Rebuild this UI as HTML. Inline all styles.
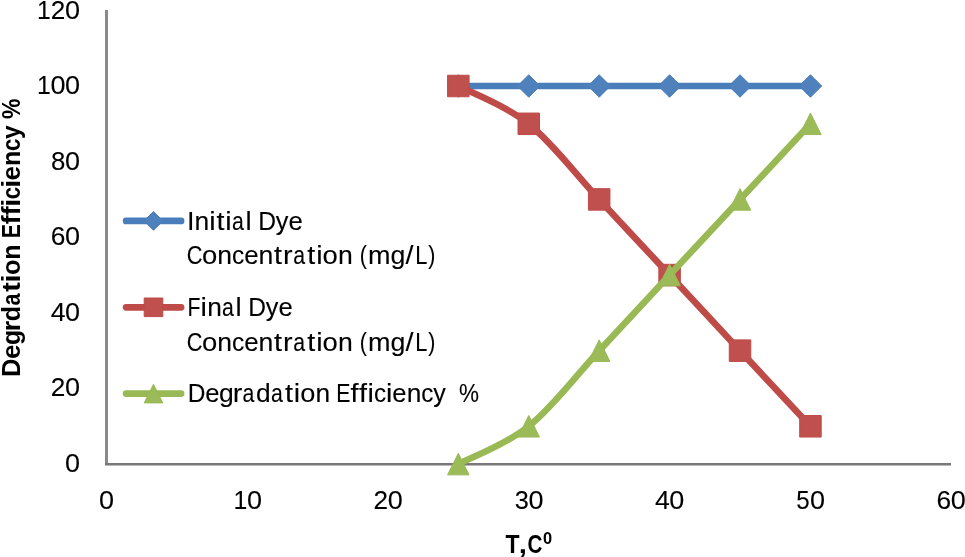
<!DOCTYPE html>
<html><head><meta charset="utf-8"><style>
html,body{margin:0;padding:0;background:#fff;overflow:hidden;}
svg{display:block;will-change:transform;}
text{font-variant-ligatures:none;font-kerning:none;white-space:pre;}
.t{font-family:"Liberation Sans",sans-serif;font-size:25px;fill:#000;stroke:#000;stroke-width:0.1px;}
.b{font-family:"Liberation Sans",sans-serif;font-size:25px;font-weight:bold;fill:#000;}
</style></head><body>
<svg width="965" height="557" viewBox="0 0 965 557">
<rect width="965" height="557" fill="#fff"/>
<line x1="106.5" y1="10" x2="106.5" y2="465" stroke="#8a8a8a" stroke-width="3"/>
<line x1="105" y1="464.25" x2="951" y2="464.25" stroke="#787878" stroke-width="2.5"/>
<text transform="translate(505.60,552.90) scale(0.9200,1)" class="b">T</text>
<text transform="translate(518.72,552.90) scale(1.1800,1)" class="b">,</text>
<text transform="translate(527.48,552.90) scale(0.8235,1)" class="b">C</text>
<text transform="translate(542.90,544.00) scale(0.9667,1)" class="b" style="font-size:17px">0</text>
<text y="229.8" class="t"><tspan x="187.02" textLength="7.51" lengthAdjust="spacingAndGlyphs">I</tspan><tspan x="194.53" textLength="14.71" lengthAdjust="spacingAndGlyphs">n</tspan><tspan x="209.31" textLength="6.39" lengthAdjust="spacingAndGlyphs">i</tspan><tspan x="216.40" textLength="7.99" lengthAdjust="spacingAndGlyphs">t</tspan><tspan x="225.32" textLength="6.39" lengthAdjust="spacingAndGlyphs">i</tspan><tspan x="231.93" textLength="11.82" lengthAdjust="spacingAndGlyphs">a</tspan><tspan x="245.55" textLength="6.16" lengthAdjust="spacingAndGlyphs">l</tspan> <tspan x="258.21" textLength="17.79" lengthAdjust="spacingAndGlyphs">D</tspan><tspan x="275.85" textLength="12.61" lengthAdjust="spacingAndGlyphs">y</tspan><tspan x="288.56" textLength="14.29" lengthAdjust="spacingAndGlyphs">e</tspan></text>
<text y="263.9" class="t"><tspan x="186.77" textLength="15.65" lengthAdjust="spacingAndGlyphs">C</tspan><tspan x="202.04" textLength="15.26" lengthAdjust="spacingAndGlyphs">o</tspan><tspan x="217.38" textLength="14.79" lengthAdjust="spacingAndGlyphs">n</tspan><tspan x="232.11" textLength="12.23" lengthAdjust="spacingAndGlyphs">c</tspan><tspan x="244.21" textLength="14.37" lengthAdjust="spacingAndGlyphs">e</tspan><tspan x="258.64" textLength="14.79" lengthAdjust="spacingAndGlyphs">n</tspan><tspan x="274.11" textLength="7.99" lengthAdjust="spacingAndGlyphs">t</tspan><tspan x="283.11" textLength="9.57" lengthAdjust="spacingAndGlyphs">r</tspan><tspan x="293.14" textLength="11.82" lengthAdjust="spacingAndGlyphs">a</tspan><tspan x="307.28" textLength="7.99" lengthAdjust="spacingAndGlyphs">t</tspan><tspan x="316.25" textLength="6.39" lengthAdjust="spacingAndGlyphs">i</tspan><tspan x="322.62" textLength="15.26" lengthAdjust="spacingAndGlyphs">o</tspan><tspan x="337.96" textLength="14.79" lengthAdjust="spacingAndGlyphs">n</tspan> <tspan x="359.79" textLength="7.08" lengthAdjust="spacingAndGlyphs">(</tspan><tspan x="368.13" textLength="22.50" lengthAdjust="spacingAndGlyphs">m</tspan><tspan x="390.44" textLength="14.89" lengthAdjust="spacingAndGlyphs">g</tspan><tspan x="405.60" textLength="7.99" lengthAdjust="spacingAndGlyphs">/</tspan><tspan x="415.26" textLength="12.11" lengthAdjust="spacingAndGlyphs">L</tspan><tspan x="428.17" textLength="7.08" lengthAdjust="spacingAndGlyphs">)</tspan></text>
<text y="315.75" class="t"><tspan x="187.62" textLength="12.98" lengthAdjust="spacingAndGlyphs">F</tspan><tspan x="200.55" textLength="6.39" lengthAdjust="spacingAndGlyphs">i</tspan><tspan x="207.18" textLength="14.67" lengthAdjust="spacingAndGlyphs">n</tspan><tspan x="221.99" textLength="11.82" lengthAdjust="spacingAndGlyphs">a</tspan><tspan x="235.59" textLength="6.15" lengthAdjust="spacingAndGlyphs">l</tspan> <tspan x="248.21" textLength="17.74" lengthAdjust="spacingAndGlyphs">D</tspan><tspan x="265.81" textLength="12.57" lengthAdjust="spacingAndGlyphs">y</tspan><tspan x="278.47" textLength="14.25" lengthAdjust="spacingAndGlyphs">e</tspan></text>
<text y="350.7" class="t"><tspan x="186.77" textLength="15.65" lengthAdjust="spacingAndGlyphs">C</tspan><tspan x="202.04" textLength="15.26" lengthAdjust="spacingAndGlyphs">o</tspan><tspan x="217.38" textLength="14.79" lengthAdjust="spacingAndGlyphs">n</tspan><tspan x="232.11" textLength="12.23" lengthAdjust="spacingAndGlyphs">c</tspan><tspan x="244.21" textLength="14.37" lengthAdjust="spacingAndGlyphs">e</tspan><tspan x="258.64" textLength="14.79" lengthAdjust="spacingAndGlyphs">n</tspan><tspan x="274.11" textLength="7.99" lengthAdjust="spacingAndGlyphs">t</tspan><tspan x="283.11" textLength="9.57" lengthAdjust="spacingAndGlyphs">r</tspan><tspan x="293.14" textLength="11.82" lengthAdjust="spacingAndGlyphs">a</tspan><tspan x="307.28" textLength="7.99" lengthAdjust="spacingAndGlyphs">t</tspan><tspan x="316.25" textLength="6.39" lengthAdjust="spacingAndGlyphs">i</tspan><tspan x="322.62" textLength="15.26" lengthAdjust="spacingAndGlyphs">o</tspan><tspan x="337.96" textLength="14.79" lengthAdjust="spacingAndGlyphs">n</tspan> <tspan x="359.79" textLength="7.08" lengthAdjust="spacingAndGlyphs">(</tspan><tspan x="368.13" textLength="22.50" lengthAdjust="spacingAndGlyphs">m</tspan><tspan x="390.44" textLength="14.89" lengthAdjust="spacingAndGlyphs">g</tspan><tspan x="405.60" textLength="7.99" lengthAdjust="spacingAndGlyphs">/</tspan><tspan x="415.26" textLength="12.11" lengthAdjust="spacingAndGlyphs">L</tspan><tspan x="428.17" textLength="7.08" lengthAdjust="spacingAndGlyphs">)</tspan></text>
<text y="401.9" class="t"><tspan x="187.81" textLength="17.71" lengthAdjust="spacingAndGlyphs">D</tspan><tspan x="205.24" textLength="14.22" lengthAdjust="spacingAndGlyphs">e</tspan><tspan x="219.11" textLength="14.74" lengthAdjust="spacingAndGlyphs">g</tspan><tspan x="232.69" textLength="9.57" lengthAdjust="spacingAndGlyphs">r</tspan><tspan x="242.60" textLength="11.82" lengthAdjust="spacingAndGlyphs">a</tspan><tspan x="255.93" textLength="14.64" lengthAdjust="spacingAndGlyphs">d</tspan><tspan x="270.98" textLength="11.82" lengthAdjust="spacingAndGlyphs">a</tspan><tspan x="285.00" textLength="7.99" lengthAdjust="spacingAndGlyphs">t</tspan><tspan x="293.89" textLength="6.39" lengthAdjust="spacingAndGlyphs">i</tspan><tspan x="300.23" textLength="15.11" lengthAdjust="spacingAndGlyphs">o</tspan><tspan x="315.42" textLength="14.65" lengthAdjust="spacingAndGlyphs">n</tspan> <tspan x="336.26" textLength="14.17" lengthAdjust="spacingAndGlyphs">E</tspan><tspan x="350.42" textLength="7.99" lengthAdjust="spacingAndGlyphs">f</tspan><tspan x="359.04" textLength="7.99" lengthAdjust="spacingAndGlyphs">f</tspan><tspan x="367.53" textLength="6.39" lengthAdjust="spacingAndGlyphs">i</tspan><tspan x="373.90" textLength="12.11" lengthAdjust="spacingAndGlyphs">c</tspan><tspan x="385.96" textLength="6.39" lengthAdjust="spacingAndGlyphs">i</tspan><tspan x="392.36" textLength="14.22" lengthAdjust="spacingAndGlyphs">e</tspan><tspan x="406.65" textLength="14.65" lengthAdjust="spacingAndGlyphs">n</tspan><tspan x="421.23" textLength="12.11" lengthAdjust="spacingAndGlyphs">c</tspan><tspan x="433.34" textLength="12.55" lengthAdjust="spacingAndGlyphs">y</tspan>  <tspan x="458.92" textLength="19.97" lengthAdjust="spacingAndGlyphs">%</tspan></text>
<text y="471.60" class="t"><tspan x="64.98" textLength="15.04" lengthAdjust="spacingAndGlyphs">0</tspan></text>
<text y="396.12" class="t"><tspan x="50.87" textLength="14.54" lengthAdjust="spacingAndGlyphs">2</tspan><tspan x="64.98" textLength="15.04" lengthAdjust="spacingAndGlyphs">0</tspan></text>
<text y="320.63" class="t"><tspan x="50.79" textLength="14.83" lengthAdjust="spacingAndGlyphs">4</tspan><tspan x="64.98" textLength="15.04" lengthAdjust="spacingAndGlyphs">0</tspan></text>
<text y="245.15" class="t"><tspan x="50.85" textLength="14.62" lengthAdjust="spacingAndGlyphs">6</tspan><tspan x="64.98" textLength="15.04" lengthAdjust="spacingAndGlyphs">0</tspan></text>
<text y="169.67" class="t"><tspan x="50.93" textLength="14.36" lengthAdjust="spacingAndGlyphs">8</tspan><tspan x="64.98" textLength="15.04" lengthAdjust="spacingAndGlyphs">0</tspan></text>
<text y="94.18" class="t"><tspan x="37.09" textLength="13.76" lengthAdjust="spacingAndGlyphs">1</tspan><tspan x="50.59" textLength="15.04" lengthAdjust="spacingAndGlyphs">0</tspan><tspan x="64.98" textLength="15.04" lengthAdjust="spacingAndGlyphs">0</tspan></text>
<text y="18.70" class="t"><tspan x="37.09" textLength="13.76" lengthAdjust="spacingAndGlyphs">1</tspan><tspan x="50.87" textLength="14.54" lengthAdjust="spacingAndGlyphs">2</tspan><tspan x="64.98" textLength="15.04" lengthAdjust="spacingAndGlyphs">0</tspan></text>
<text y="508.6" class="t"><tspan x="98.98" textLength="15.04" lengthAdjust="spacingAndGlyphs">0</tspan></text>
<text y="508.6" class="t"><tspan x="233.43" textLength="13.76" lengthAdjust="spacingAndGlyphs">1</tspan><tspan x="246.93" textLength="15.04" lengthAdjust="spacingAndGlyphs">0</tspan></text>
<text y="508.6" class="t"><tspan x="373.57" textLength="14.54" lengthAdjust="spacingAndGlyphs">2</tspan><tspan x="387.68" textLength="15.04" lengthAdjust="spacingAndGlyphs">0</tspan></text>
<text y="508.6" class="t"><tspan x="514.71" textLength="14.07" lengthAdjust="spacingAndGlyphs">3</tspan><tspan x="528.43" textLength="15.04" lengthAdjust="spacingAndGlyphs">0</tspan></text>
<text y="508.6" class="t"><tspan x="654.98" textLength="14.83" lengthAdjust="spacingAndGlyphs">4</tspan><tspan x="669.18" textLength="15.04" lengthAdjust="spacingAndGlyphs">0</tspan></text>
<text y="508.6" class="t"><tspan x="796.18" textLength="13.40" lengthAdjust="spacingAndGlyphs">5</tspan><tspan x="809.93" textLength="15.04" lengthAdjust="spacingAndGlyphs">0</tspan></text>
<text y="508.6" class="t"><tspan x="936.55" textLength="14.62" lengthAdjust="spacingAndGlyphs">6</tspan><tspan x="950.68" textLength="15.04" lengthAdjust="spacingAndGlyphs">0</tspan></text>
<text transform="translate(20.1,0) rotate(-90)" class="b"><tspan x="-376.92" textLength="18.42" lengthAdjust="spacingAndGlyphs">D</tspan><tspan x="-359.06" textLength="14.47" lengthAdjust="spacingAndGlyphs">e</tspan><tspan x="-344.99" textLength="15.19" lengthAdjust="spacingAndGlyphs">g</tspan><tspan x="-331.37" textLength="10.30" lengthAdjust="spacingAndGlyphs">r</tspan><tspan x="-321.21" textLength="15.33" lengthAdjust="spacingAndGlyphs">d</tspan><tspan x="-305.44" textLength="12.03" lengthAdjust="spacingAndGlyphs">a</tspan><tspan x="-291.74" textLength="9.57" lengthAdjust="spacingAndGlyphs">t</tspan><tspan x="-282.46" textLength="7.99" lengthAdjust="spacingAndGlyphs">i</tspan><tspan x="-275.11" textLength="15.54" lengthAdjust="spacingAndGlyphs">o</tspan><tspan x="-259.63" textLength="15.23" lengthAdjust="spacingAndGlyphs">n</tspan> <tspan x="-238.17" textLength="14.17" lengthAdjust="spacingAndGlyphs">E</tspan><tspan x="-224.38" textLength="9.02" lengthAdjust="spacingAndGlyphs">f</tspan><tspan x="-215.39" textLength="9.02" lengthAdjust="spacingAndGlyphs">f</tspan><tspan x="-206.73" textLength="7.99" lengthAdjust="spacingAndGlyphs">i</tspan><tspan x="-199.35" textLength="12.35" lengthAdjust="spacingAndGlyphs">c</tspan><tspan x="-187.87" textLength="7.99" lengthAdjust="spacingAndGlyphs">i</tspan><tspan x="-180.53" textLength="14.47" lengthAdjust="spacingAndGlyphs">e</tspan><tspan x="-166.01" textLength="15.23" lengthAdjust="spacingAndGlyphs">n</tspan><tspan x="-150.95" textLength="12.35" lengthAdjust="spacingAndGlyphs">c</tspan><tspan x="-139.11" textLength="13.59" lengthAdjust="spacingAndGlyphs">y</tspan> <tspan x="-118.96" textLength="20.47" lengthAdjust="spacingAndGlyphs">%</tspan></text>
<path d="M458.32,86.00 C470.06,86.00 505.27,86.00 528.75,86.00 C552.23,86.00 575.70,86.00 599.18,86.00 C622.65,86.00 646.13,86.00 669.60,86.00 C693.08,86.00 716.55,86.00 740.03,86.00 C763.50,86.00 798.71,86.00 810.45,86.00" fill="none" stroke="#4a7ebb" stroke-width="6.6" stroke-linejoin="round" stroke-linecap="round"/>
<path d="M458.32,74.75 L469.57,86.00 L458.32,97.25 L447.07,86.00Z" fill="#4f81bd" stroke="#4a7ebb" stroke-width="1" stroke-linejoin="round"/>
<path d="M528.75,74.75 L540.00,86.00 L528.75,97.25 L517.50,86.00Z" fill="#4f81bd" stroke="#4a7ebb" stroke-width="1" stroke-linejoin="round"/>
<path d="M599.18,74.75 L610.43,86.00 L599.18,97.25 L587.93,86.00Z" fill="#4f81bd" stroke="#4a7ebb" stroke-width="1" stroke-linejoin="round"/>
<path d="M669.60,74.75 L680.85,86.00 L669.60,97.25 L658.35,86.00Z" fill="#4f81bd" stroke="#4a7ebb" stroke-width="1" stroke-linejoin="round"/>
<path d="M740.03,74.75 L751.28,86.00 L740.03,97.25 L728.78,86.00Z" fill="#4f81bd" stroke="#4a7ebb" stroke-width="1" stroke-linejoin="round"/>
<path d="M810.45,74.75 L821.70,86.00 L810.45,97.25 L799.20,86.00Z" fill="#4f81bd" stroke="#4a7ebb" stroke-width="1" stroke-linejoin="round"/>
<path d="M458.32,86.00 C470.06,92.30 505.27,104.91 528.75,123.81 C552.23,142.72 575.70,174.22 599.18,199.43 C622.65,224.64 646.13,249.84 669.60,275.05 C693.08,300.26 716.55,325.46 740.03,350.67 C763.50,375.88 798.71,413.69 810.45,426.29" fill="none" stroke="#be4b48" stroke-width="6.6" stroke-linejoin="round" stroke-linecap="round"/>
<rect x="447.57" y="75.25" width="21.50" height="21.50" fill="#c0504d" stroke="#be4b48" stroke-width="1" stroke-linejoin="round"/>
<rect x="518.00" y="113.06" width="21.50" height="21.50" fill="#c0504d" stroke="#be4b48" stroke-width="1" stroke-linejoin="round"/>
<rect x="588.43" y="188.68" width="21.50" height="21.50" fill="#c0504d" stroke="#be4b48" stroke-width="1" stroke-linejoin="round"/>
<rect x="658.85" y="264.30" width="21.50" height="21.50" fill="#c0504d" stroke="#be4b48" stroke-width="1" stroke-linejoin="round"/>
<rect x="729.28" y="339.92" width="21.50" height="21.50" fill="#c0504d" stroke="#be4b48" stroke-width="1" stroke-linejoin="round"/>
<rect x="799.70" y="415.54" width="21.50" height="21.50" fill="#c0504d" stroke="#be4b48" stroke-width="1" stroke-linejoin="round"/>
<path d="M458.32,464.10 C470.06,457.80 505.27,445.20 528.75,426.29 C552.23,407.38 575.70,375.88 599.18,350.67 C622.65,325.46 646.13,300.26 669.60,275.05 C693.08,249.84 716.55,224.64 740.03,199.43 C763.50,174.22 798.71,136.41 810.45,123.81" fill="none" stroke="#98b954" stroke-width="6.6" stroke-linejoin="round" stroke-linecap="round"/>
<path d="M458.32,453.35 L469.07,474.85 L447.57,474.85Z" fill="#9bbb59" stroke="#98b954" stroke-width="1" stroke-linejoin="round"/>
<path d="M528.75,415.54 L539.50,437.04 L518.00,437.04Z" fill="#9bbb59" stroke="#98b954" stroke-width="1" stroke-linejoin="round"/>
<path d="M599.18,339.92 L609.93,361.42 L588.43,361.42Z" fill="#9bbb59" stroke="#98b954" stroke-width="1" stroke-linejoin="round"/>
<path d="M669.60,264.30 L680.35,285.80 L658.85,285.80Z" fill="#9bbb59" stroke="#98b954" stroke-width="1" stroke-linejoin="round"/>
<path d="M740.03,188.68 L750.78,210.18 L729.28,210.18Z" fill="#9bbb59" stroke="#98b954" stroke-width="1" stroke-linejoin="round"/>
<path d="M810.45,113.06 L821.20,134.56 L799.70,134.56Z" fill="#9bbb59" stroke="#98b954" stroke-width="1" stroke-linejoin="round"/>
<line x1="126.1" y1="220.9" x2="181.1" y2="220.9" stroke="#4a7ebb" stroke-width="6.7" stroke-linecap="round"/>
<path d="M153.50,211.50 L162.90,220.90 L153.50,230.30 L144.10,220.90Z" fill="#4f81bd" stroke="#4a7ebb" stroke-width="1" stroke-linejoin="round"/>
<line x1="126.1" y1="307.3" x2="181.1" y2="307.3" stroke="#be4b48" stroke-width="6.7" stroke-linecap="round"/>
<rect x="144.20" y="298.00" width="18.60" height="18.60" fill="#c0504d" stroke="#be4b48" stroke-width="1" stroke-linejoin="round"/>
<line x1="126.1" y1="393.6" x2="181.1" y2="393.6" stroke="#98b954" stroke-width="6.7" stroke-linecap="round"/>
<path d="M153.50,384.30 L162.80,402.90 L144.20,402.90Z" fill="#9bbb59" stroke="#98b954" stroke-width="1" stroke-linejoin="round"/>
</svg>
</body></html>
